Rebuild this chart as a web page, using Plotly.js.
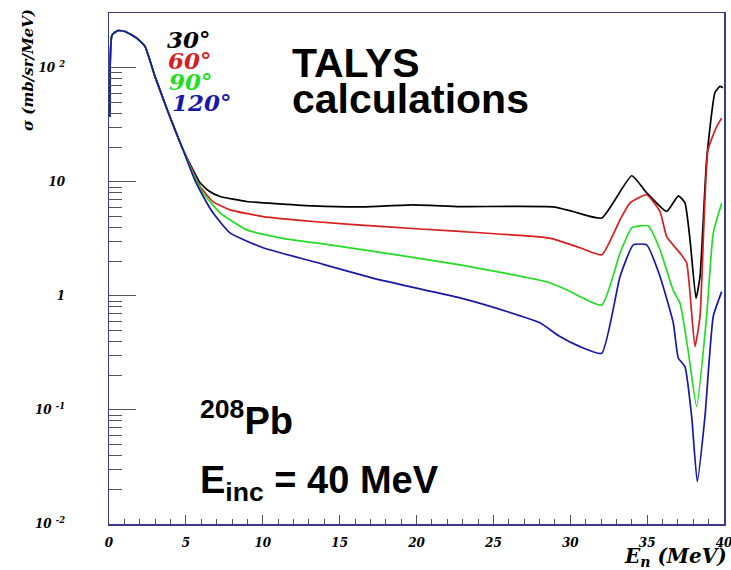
<!DOCTYPE html>
<html><head><meta charset="utf-8">
<script src="https://cdn.plot.ly/plotly-3.0.1.min.js"></script>
<style>html,body{margin:0;padding:0;background:#fff}</style>
</head><body><div id="chart" style="width:731px;height:570px"></div>
<script>
// ---- data ----
const xBlack = [0.06,0.2,0.6,1.04,1.8,2.34,2.99,3.86,4.73,5.59,5.92,6.5,7.22,8.96,11.12,13.27,16.52,19.77,22.83,28.88,30.18,32.05,34.0,34.97,36.27,37.03,37.46,37.79,38.18,38.44,38.87,39.41,39.74,39.93];
const yBlack = [37,194,212,208,182,154,84,40.3,20.4,11.8,9.8,8.3,7.43,6.72,6.41,6.15,6.03,6.28,6.07,6.03,5.49,4.81,11.3,8.02,5.49,7.54,6.54,3.1,0.95,1.48,15.6,60.4,68.6,66.8];

const xRed = [0.06,0.2,0.6,1.04,1.8,2.34,2.99,3.86,4.73,5.59,5.92,6.76,7.87,10.02,13.27,17.63,22.83,28.03,28.88,30.63,32.05,33.24,33.89,34.97,35.84,36.27,37.14,37.57,38.11,38.44,38.96,39.53,39.85];
const yRed = [37,194,212,208,182,154,84,40.3,20.4,11.3,9.1,6.7,5.68,4.96,4.49,4.06,3.67,3.29,3.16,2.64,2.29,4.65,6.54,7.7,5.49,3.31,2.37,1.95,0.359,0.66,19.1,30.6,36.2];

const xGreen = [0.06,0.2,0.6,1.04,1.8,2.34,2.99,3.86,4.73,5.59,6.11,7.22,8.96,11.12,14.37,18.71,22.83,28.47,29.77,32.05,33.24,34.0,35.06,35.84,36.68,37.14,37.66,38.22,38.87,39.30,39.85];
const yGreen = [37,194,212,208,182,154,84,40.3,20.4,10.9,8.0,5.35,3.79,3.23,2.80,2.29,1.87,1.33,1.13,0.83,2.38,3.95,4.11,2.54,1.13,0.86,0.336,0.107,0.66,3.55,6.5];

const xBlue = [0.06,0.2,0.6,1.04,1.8,2.34,2.99,3.86,4.73,5.59,6.24,6.76,7.87,10.02,13.27,17.63,22.83,25.87,28.03,29.33,30.63,32.05,33.24,34.1,34.97,35.84,36.70,37.03,37.46,37.90,38.26,38.76,39.30,39.85];
const yBlue = [37,194,212,208,182,154,84,40.3,20.4,10.3,7.0,5.35,3.57,2.64,2.00,1.38,0.96,0.73,0.58,0.44,0.359,0.314,1.48,2.80,2.80,1.48,0.58,0.284,0.24,0.087,0.0235,0.087,0.66,1.09];

const seriesNames = ['30°','60°','90°','120°'];
const xTickVals = [0,5,10,15,20,25,30,35,40];
const xTickText = ['0','5','10','15','20','25','30','35','40'];
const yTickVals = [0.01,0.1,1,10,100];
const yTickText = ['10 <sup>-2</sup>','10 <sup>-1</sup>','1','10','10 <sup>2</sup>'];
const yMinorVals = [0.02,0.03,0.04,0.05,0.06,0.07,0.08,0.09,0.2,0.3,0.4,0.5,0.6,0.7,0.8,0.9,2,3,4,5,6,7,8,9,20,30,40,50,60,70,80,90];

// ---- styling ----
const colors = ['#000000','#d81e1e','#22dd22','#1818a8'];
const L=109,R=724,T=13,B=524;
const px = x => (x-L)/(R-L);
const py = y => (B-y)/(B-T);
const serifBI = (size,color) => ({family:'DejaVu Serif', size:size, color:color||'#000', weight:'bold', style:'italic'});
const sansB = (size) => ({family:'Liberation Sans, Arial', size:size, color:'#000', weight:'bold'});

const xs=[xBlack,xRed,xGreen,xBlue], ys=[yBlack,yRed,yGreen,yBlue];
const traces = xs.map((x,i)=>({x:x, y:ys[i], type:'scatter', mode:'lines', name:seriesNames[i],
  line:{color:colors[i], width:1.7, shape:'spline', smoothing:0.45}, hoverinfo:'skip'}));

const frame = '#3a3a8c';
const layout = {
  width:731, height:570, showlegend:false,
  paper_bgcolor:'#fff', plot_bgcolor:'#fff',
  margin:{l:L, r:731-R, t:T, b:570-B},
  xaxis:{range:[0,40], showgrid:false, zeroline:false, showline:true, mirror:true,
    linecolor:frame, linewidth:1.5, ticks:'inside', ticklen:9, tickcolor:'#555', tickwidth:1,
    tickmode:'array', tickvals:xTickVals, ticktext:xTickText, tickfont:serifBI(12),
    ticklabelstandoff:7, ticklabeloverflow:'allow',
    minor:{dtick:1, tick0:0, ticks:'inside', ticklen:5, tickcolor:'#555', tickwidth:1, showgrid:false}},
  yaxis:{type:'log', range:[-2,2.48], showgrid:false, zeroline:false, showline:true, mirror:true,
    linecolor:frame, linewidth:1.5, ticks:'inside', ticklen:27, tickcolor:'#555', tickwidth:1,
    tickmode:'array', tickvals:yTickVals, ticktext:yTickText, tickfont:serifBI(12),
    ticklabelstandoff:40,
    minor:{tickmode:'array', tickvals:yMinorVals, ticks:'inside', ticklen:13, tickcolor:'#555', tickwidth:1, showgrid:false}},
  annotations:[
    {xref:'paper',yref:'paper',x:px(165),y:py(39),xanchor:'left',yanchor:'middle',showarrow:false,text:seriesNames[0],font:serifBI(23,colors[0])},
    {xref:'paper',yref:'paper',x:px(166),y:py(60),xanchor:'left',yanchor:'middle',showarrow:false,text:seriesNames[1],font:serifBI(23,colors[1])},
    {xref:'paper',yref:'paper',x:px(167),y:py(81),xanchor:'left',yanchor:'middle',showarrow:false,text:seriesNames[2],font:serifBI(23,colors[2])},
    {xref:'paper',yref:'paper',x:px(170),y:py(102),xanchor:'left',yanchor:'middle',showarrow:false,text:seriesNames[3],font:serifBI(23,colors[3])},
    {xref:'paper',yref:'paper',x:px(290),y:py(63),xanchor:'left',yanchor:'middle',showarrow:false,text:'TALYS',font:sansB(41)},
    {xref:'paper',yref:'paper',x:px(290),y:py(99),xanchor:'left',yanchor:'middle',showarrow:false,text:'calculations',font:sansB(41)},
    {xref:'paper',yref:'paper',x:px(198),y:py(418),xanchor:'left',yanchor:'middle',showarrow:false,text:'<sup>208</sup>Pb',font:sansB(38)},
    {xref:'paper',yref:'paper',x:px(198),y:py(483),xanchor:'left',yanchor:'middle',showarrow:false,text:'E<sub>inc</sub> = 40 MeV',font:sansB(38)},
    {xref:'paper',yref:'paper',x:px(729),y:py(557),xanchor:'right',yanchor:'middle',showarrow:false,text:'E<sub>n</sub> (MeV)',font:serifBI(20)},
    {xref:'paper',yref:'paper',x:px(28),y:py(70),xanchor:'center',yanchor:'middle',showarrow:false,textangle:-90,text:'σ (mb/sr/MeV)',font:serifBI(15)}
  ]
};
Plotly.newPlot('chart', traces, layout, {staticPlot:true, displayModeBar:false});
</script></body></html>
